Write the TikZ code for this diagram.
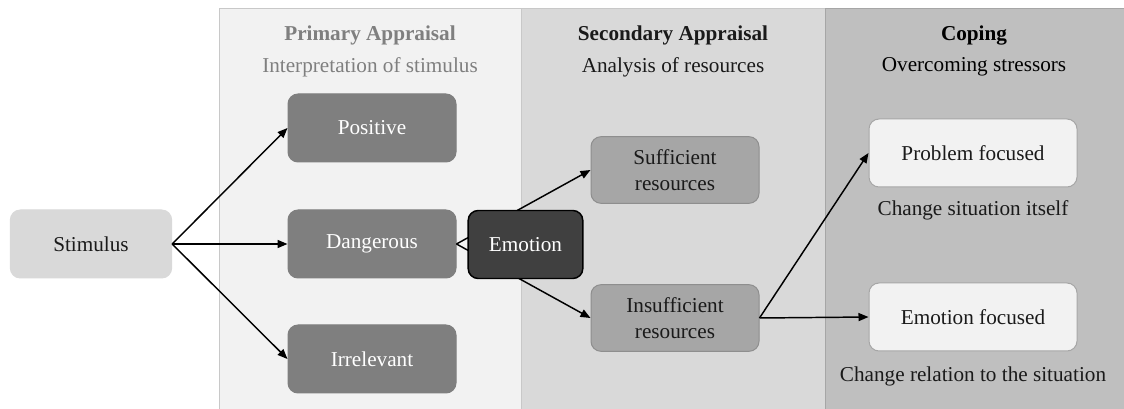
\documentclass[tikz,border=0pt]{standalone}
\usepackage{fontspec}
\IfFontExistsTF{LiberationSerif-Regular.ttf}{%
  \setmainfont{LiberationSerif}[Extension=.ttf,
    UprightFont=*-Regular, BoldFont=*-Bold,
    ItalicFont=*-Italic, BoldItalicFont=*-BoldItalic]}{%
  \setmainfont{Liberation Serif}}
\usetikzlibrary{arrows.meta}
\definecolor{panelA}{HTML}{F2F2F2}
\definecolor{panelB}{HTML}{D9D9D9}
\definecolor{panelC}{HTML}{BFBFBF}
\definecolor{panelEdge}{HTML}{C8C8C8}
\definecolor{midgray}{HTML}{7F7F7F}
\definecolor{lightgray}{HTML}{A6A6A6}
\definecolor{lightedge}{HTML}{8E8E8E}
\definecolor{darkbox}{HTML}{404040}
\definecolor{inktext}{HTML}{1A1A1A}
\begin{document}
\begin{tikzpicture}[x=0.75pt,y=-0.75pt,
  font=\rmfamily\fontsize{15.9}{19.5}\selectfont,
  box/.style={rounded corners=7.5pt, minimum width=126pt, minimum height=51pt, align=center, inner sep=0pt, line width=0.75pt},
  stimbox/.style={box, fill=panelB, draw=panelB, minimum width=121pt, text=inktext},
  apprbox/.style={box, fill=midgray, draw=midgray, text=white},
  emobox/.style={box, fill=darkbox, draw=black, line width=1.1pt, minimum width=86pt, text=white},
  resbox/.style={box, fill=lightgray, draw=lightedge, text=inktext, minimum height=50pt},
  copebox/.style={box, fill=panelA, draw=lightgray, text=inktext, minimum width=156pt},
  head/.style={font=\rmfamily\fontsize{15.9}{19.5}\selectfont\bfseries},
  arr/.style={-{Triangle[length=7.5pt,width=6pt]}, line width=1.1pt, black}]
\useasboundingbox (0,0) rectangle (1124,409);
\fill[white] (0,0) rectangle (1124,409);

% three stage panels
\draw[fill=panelA, draw=panelEdge, line width=0.75pt] (219,9) rectangle (521,412);
\draw[fill=panelB, draw=panelEdge, line width=0.75pt] (521,9) rectangle (825,412);
\draw[fill=panelC, draw=lightgray, line width=0.75pt] (825,9) rectangle (1126,412);

% stage headings
\node[head, text=midgray] (h1) at (370,35) {Primary Appraisal};
\node[text=midgray] (s1) at (370,67) {Interpretation of stimulus};
\node[head, text=inktext] (h2) at (673,35) {Secondary Appraisal};
\node[text=inktext] (s2) at (673,67) {Analysis of resources};
\node[head, text=black] (h3) at (974,35) {Coping};
\node[text=black] (s3) at (974,67) {Overcoming stressors};

% nodes
\node[stimbox] (stim) at (91,244) {Stimulus};
\node[apprbox] (pos) at (372,128) {Positive};
\node[apprbox] (dang) at (372,244) {Dangerous};
\node[apprbox] (irr) at (372,359) {Irrelevant};
\node[resbox] (suff) at (675,170) {Sufficient\\resources};
\node[resbox] (insuff) at (675,318) {Insufficient\\resources};
\node[copebox] (prob) at (973,153) {Problem focused};
\node[copebox] (emf) at (973,317) {Emotion focused};
\node[text=inktext] (c1) at (973,210) {Change situation itself};
\node[text=inktext] (c2) at (973,376) {Change relation to the situation};

% connectors
\draw[arr] (stim.east) -- (pos.west);
\draw[arr] (stim.east) -- (dang.west);
\draw[arr] (stim.east) -- (irr.west);
\draw[arr] (dang.east) -- (suff.west);
\draw[arr] (dang.east) -- (insuff.west);
\draw[arr] (insuff.east) -- (prob.west);
\draw[arr] (insuff.east) -- (emf.west);

% emotion sits over the two secondary links
\node[emobox] (emo) at (525.5,244.5) {Emotion};
\end{tikzpicture}
\end{document}
